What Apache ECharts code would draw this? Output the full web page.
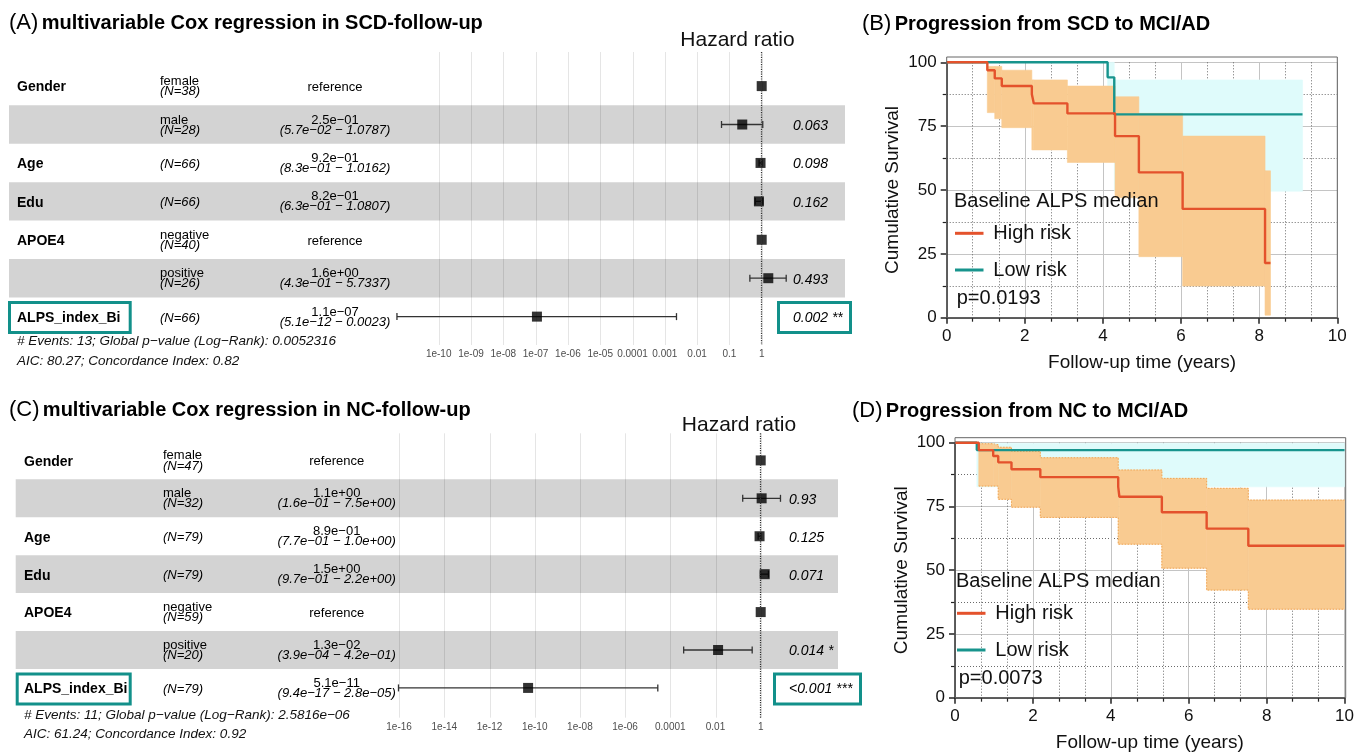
<!DOCTYPE html>
<html><head><meta charset="utf-8">
<script src="https://cdn.jsdelivr.net/npm/echarts@6/dist/echarts.min.js"></script>
<style>html,body{margin:0;padding:0;background:#fff}#c{width:1357px;height:754px}</style>
</head><body><div id="c"></div>
<script>
// ---------------- Panel A: multivariable Cox regression in SCD-follow-up ----------------
const aVars   = ['Gender', '', 'Age', 'Edu', 'APOE4', '', 'ALPS_index_Bi'];
const aLevels = ['female', 'male', '', '', 'negative', 'positive', ''];
const aN      = ['(N=38)', '(N=28)', '(N=66)', '(N=66)', '(N=40)', '(N=26)', '(N=66)'];
const aHR     = [1, 0.25, 0.92, 0.82, 1, 1.6, 1.1e-7];
const aLo     = [null, 0.057, 0.83, 0.63, null, 0.43, 5.1e-12];
const aHi     = [null, 1.0787, 1.0162, 1.0807, null, 5.7337, 0.0023];
const aHRText = ['reference', '2.5e−01', '9.2e−01', '8.2e−01', 'reference', '1.6e+00', '1.1e−07'];
const aCIText = ['', '(5.7e−02 − 1.0787)', '(8.3e−01 − 1.0162)', '(6.3e−01 − 1.0807)', '', '(4.3e−01 − 5.7337)', '(5.1e−12 − 0.0023)'];
const aP      = ['', '0.063', '0.098', '0.162', '', '0.493', '0.002 **'];
const aTickExp    = [-10, -9, -8, -7, -6, -5, -4, -3, -2, -1, 0];
const aTickLabels = ['1e-10', '1e-09', '1e-08', '1e-07', '1e-06', '1e-05', '0.0001', '0.001', '0.01', '0.1', '1'];
const aNotes = ['# Events: 13; Global p−value (Log−Rank): 0.0052316', 'AIC: 80.27; Concordance Index: 0.82'];

// ---------------- Panel C: multivariable Cox regression in NC-follow-up ----------------
const cVars   = ['Gender', '', 'Age', 'Edu', 'APOE4', '', 'ALPS_index_Bi'];
const cLevels = ['female', 'male', '', '', 'negative', 'positive', ''];
const cN      = ['(N=47)', '(N=32)', '(N=79)', '(N=79)', '(N=59)', '(N=20)', '(N=79)'];
const cHR     = [1, 1.1, 0.89, 1.5, 1, 0.013, 5.1e-11];
const cLo     = [null, 0.16, 0.77, 0.97, null, 3.9e-4, 9.4e-17];
const cHi     = [null, 7.5, 1.0, 2.2, null, 0.42, 2.8e-5];
const cHRText = ['reference', '1.1e+00', '8.9e−01', '1.5e+00', 'reference', '1.3e−02', '5.1e−11'];
const cCIText = ['', '(1.6e−01 − 7.5e+00)', '(7.7e−01 − 1.0e+00)', '(9.7e−01 − 2.2e+00)', '', '(3.9e−04 − 4.2e−01)', '(9.4e−17 − 2.8e−05)'];
const cP      = ['', '0.93', '0.125', '0.071', '', '0.014 *', '<0.001 ***'];
const cTickExp    = [-16, -14, -12, -10, -8, -6, -4, -2, 0];
const cTickLabels = ['1e-16', '1e-14', '1e-12', '1e-10', '1e-08', '1e-06', '0.0001', '0.01', '1'];
const cNotes = ['# Events: 11; Global p−value (Log−Rank): 2.5816e−06', 'AIC: 61.24; Concordance Index: 0.92'];

// ---------------- Panel B: Progression from SCD to MCI/AD ----------------
const bHighT = [0, 1.04, 1.23, 1.41, 2.18, 2.23, 3.09, 4.31, 4.92, 6.04, 8.15, 8.29];
const bHighS = [100, 96.9, 93.7, 90.7, 87.5, 83.9, 80.0, 71.1, 56.9, 42.6, 21.4, 21.4];
const bHighBandT  = [1.04, 1.23, 1.41, 2.18, 2.23, 3.09, 4.31, 4.92, 6.04, 8.15, 8.29];
const bHighBandUp = [98.4, 98.4, 96.9, 93.1, 93.1, 90.7, 86.5, 80.0, 71.1, 57.5];
const bHighBandLo = [80.3, 77.9, 74.4, 65.7, 65.7, 60.8, 47.0, 23.9, 12.4, 1.0];
const bLowT = [0, 4.12, 4.29, 9.11];
const bLowS = [100, 94.1, 79.6, 79.6];
const bLowBandT  = [4.12, 4.29, 9.11];
const bLowBandUp = [100, 93.1];
const bLowBandLo = [75, 49.5];
const bP = 'p=0.0193';

// ---------------- Panel D: Progression from NC to MCI/AD ----------------
const dHighT = [0, 0.61, 0.98, 1.11, 1.45, 2.19, 4.19, 4.22, 5.31, 6.46, 7.53, 10];
const dHighS = [100, 97.1, 94.8, 92.3, 89.6, 86.5, 82.7, 78.8, 72.7, 66.3, 59.6, 59.6];
const dHighBandT  = [0.61, 0.98, 1.11, 1.45, 2.19, 4.19, 4.22, 5.31, 6.46, 7.53, 10];
const dHighBandUp = [99.6, 99.2, 98.2, 96.6, 94.1, 89.3, 89.3, 86.0, 82.1, 77.5];
const dHighBandLo = [83.0, 83.0, 77.8, 74.7, 70.7, 60.2, 60.2, 50.8, 42.2, 34.7];
const dLowT = [0, 0.56, 10];
const dLowS = [100, 97.1, 97.1];
const dLowBandT  = [0.56, 10];
const dLowBandUp = [99.8];
const dLowBandLo = [82.7];
const dP = 'p=0.0073';

const groupNames = ['High risk', 'Low risk'];
const legendTitle = 'Baseline ALPS median';
const kmXName = 'Follow-up time (years)';
const kmYName = 'Cumulative Survival';

// ---------------- styling ----------------
const FONT = '"Liberation Sans", Arial, Helvetica, sans-serif';
const TEAL = '#12908a';
const RED = '#e4522c';
const LOWC = '#18948d';
const ORANGE = '#f9cb91';
const CYAN = '#dffbfb';

function txt(s, x, y, o) {
  return { type: 'text', x: x, y: y, style: Object.assign({ text: s, fontFamily: FONT, fontSize: 13, fill: '#000', align: 'left', verticalAlign: 'middle' }, o || {}) };
}

// forest layouts
const LA = { top: 52, bottom: 345, row1: 86.1, rowH: 38.42, one: 761.7, dec: 32.3, xmin: -12, xmax: 1,
  bandX0: 9, bandX1: 845, varX: 17, levelX: 160, estX: 335, pX: 793,
  labBox: [9.5, 120.7], pBox: [778.5, 72] };
const LC = { top: 433.3, bottom: 717.7, row1: 460.4, rowH: 37.92, one: 760.7, dec: 22.6, xmin: -17, xmax: 1,
  bandX0: 15.7, bandX1: 838, varX: 24, levelX: 163, estX: 336.7, pX: 789,
  labBox: [17.2, 113], pBox: [774.5, 86] };

function forestGrid(L) {
  return { left: L.one + L.xmin * L.dec, top: L.top, width: (L.xmax - L.xmin) * L.dec, height: L.bottom - L.top };
}
function forestY(L) {
  const ymin = 1 - (L.row1 - L.top) / L.rowH;
  return { ymin: ymin, ymax: ymin + (L.bottom - L.top) / L.rowH };
}

function forestSeries(gi, d, L) {
  const rows = d.vars.map((_, i) => [0, i + 1]);
  const out = [];
  out.push({ type: 'custom', xAxisIndex: gi, yAxisIndex: gi, z: 1, silent: true, data: rows,
    renderItem(params, api) {
      const i = params.dataIndex;
      if (i % 2 === 0) return { type: 'group', children: [] };
      const r = i + 1;
      const y0 = api.coord([0, r - 0.5])[1], y1 = api.coord([0, r + 0.5])[1];
      return { type: 'rect', shape: { x: L.bandX0, y: y0, width: L.bandX1 - L.bandX0, height: y1 - y0 }, style: { fill: '#d3d3d3' } };
    } });
  out.push({ type: 'custom', xAxisIndex: gi, yAxisIndex: gi, z: 2, silent: true, data: d.tickExp.map(e => [e, 1]),
    renderItem(params, api) {
      const cs = params.coordSys;
      const x = Math.round(api.coord([api.value(0), 1])[0]) + 0.5;
      return { type: 'line', shape: { x1: x, y1: cs.y, x2: x, y2: cs.y + cs.height }, style: { stroke: 'rgba(0,0,0,0.1)', lineWidth: 1 } };
    } });
  const eb = [];
  d.lo.forEach((lo, i) => { if (lo != null) eb.push([Math.log10(lo), Math.log10(d.hi[i]), i + 1]); });
  out.push({ type: 'custom', xAxisIndex: gi, yAxisIndex: gi, z: 3, silent: true, encode: { x: [0, 1], y: 2 }, data: eb,
    renderItem(params, api) {
      const a = api.coord([api.value(0), api.value(2)]), b = api.coord([api.value(1), api.value(2)]);
      const st = { stroke: '#333', lineWidth: 1.3 };
      return { type: 'group', children: [
        { type: 'line', shape: { x1: a[0], y1: a[1], x2: b[0], y2: b[1] }, style: st },
        { type: 'line', shape: { x1: a[0], y1: a[1] - 3.5, x2: a[0], y2: a[1] + 3.5 }, style: st },
        { type: 'line', shape: { x1: b[0], y1: b[1] - 3.5, x2: b[0], y2: b[1] + 3.5 }, style: st }] };
    } });
  out.push({ type: 'scatter', xAxisIndex: gi, yAxisIndex: gi, z: 4, silent: true, symbol: 'rect', symbolSize: 10,
    itemStyle: { color: '#000' }, data: d.hr.map((h, i) => [Math.log10(h), i + 1]),
    markLine: { silent: true, symbol: 'none', label: { show: false }, lineStyle: { color: '#333', type: 'dotted', width: 1.2 }, data: [{ xAxis: 0 }] } });
  out.push({ type: 'custom', xAxisIndex: gi, yAxisIndex: gi, z: 5, silent: true, data: rows,
    renderItem(params, api) {
      const i = params.dataIndex;
      const y = api.coord([0, i + 1])[1];
      const ch = [];
      if (i === d.highlight) {
        ch.push({ type: 'rect', shape: { x: L.labBox[0], y: y - 14, width: L.labBox[1], height: 30 }, style: { fill: '#fff', stroke: TEAL, lineWidth: 3 } });
        ch.push({ type: 'rect', shape: { x: L.pBox[0], y: y - 14, width: L.pBox[1], height: 30 }, style: { fill: '#fff', stroke: TEAL, lineWidth: 3 } });
      }
      if (d.vars[i]) ch.push(txt(d.vars[i], L.varX, y + 1.5, { fontSize: 14, fontWeight: 'bold' }));
      if (d.levels[i]) {
        ch.push(txt(d.levels[i], L.levelX, y - 4.5));
        ch.push(txt(d.ns[i], L.levelX, y + 5.5, { fontStyle: 'italic' }));
      } else {
        ch.push(txt(d.ns[i], L.levelX, y + 1.5, { fontStyle: 'italic' }));
      }
      if (d.ci[i]) {
        ch.push(txt(d.hrText[i], L.estX, y - 4.5, { align: 'center' }));
        ch.push(txt(d.ci[i], L.estX, y + 5.5, { align: 'center', fontStyle: 'italic' }));
      } else {
        ch.push(txt(d.hrText[i], L.estX, y + 1.5, { align: 'center' }));
      }
      if (d.p[i]) ch.push(txt(d.p[i], L.pX, y + 1.5, { fontStyle: 'italic', fontSize: 14 }));
      return { type: 'group', children: ch };
    } });
  return out;
}

function forestAxes(gi, d, L) {
  const yr = forestY(L);
  const x = { type: 'value', gridIndex: gi, min: L.xmin, max: L.xmax, interval: 1,
    axisLine: { show: false }, axisTick: { show: false }, splitLine: { show: false },
    axisLabel: { fontFamily: FONT, fontSize: 10, color: '#4d4d4d', margin: 4.5,
      formatter: v => { const k = d.tickExp.indexOf(Math.round(v)); return k >= 0 ? d.tickLabels[k] : ''; } } };
  const y = { type: 'value', gridIndex: gi, inverse: true, min: yr.ymin, max: yr.ymax, show: false };
  return { x, y };
}

// KM layouts
const KB = { left: 946.7, top: 62.3, width: 390.6, height: 255.4, frameTop: 57 };
const KD = { left: 955, top: 442.7, width: 390.7, height: 255, frameTop: 437.7 };

function kmAxes(gi) {
  const x = { type: 'value', gridIndex: gi, min: 0, max: 10, interval: 2,
    name: kmXName, nameLocation: 'middle', nameGap: 36, nameTextStyle: { fontFamily: FONT, fontSize: 19, color: '#111' },
    axisLine: { lineStyle: { color: '#222', width: 1.5 } },
    axisTick: { length: 6, lineStyle: { color: '#222', width: 1.5 } },
    minorTick: { show: true, splitNumber: 3, length: 4, lineStyle: { color: '#222', width: 1.2 } },
    splitLine: { show: true, lineStyle: { color: '#c4c4c4', width: 1 } },
    minorSplitLine: { show: true, lineStyle: { color: '#6a6a6a', width: 1, type: [1, 2] } },
    axisLabel: { fontFamily: FONT, fontSize: 17, color: '#111', margin: 10 } };
  const y = { type: 'value', gridIndex: gi, min: 0, max: 100, interval: 25,
    name: kmYName, nameLocation: 'middle', nameGap: 44, nameRotate: 90, nameTextStyle: { fontFamily: FONT, fontSize: 19, color: '#111' },
    axisLine: { show: true, lineStyle: { color: '#222', width: 1.5 } },
    axisTick: { show: true, length: 6, lineStyle: { color: '#222', width: 1.5 } },
    minorTick: { show: true, splitNumber: 2, length: 4, lineStyle: { color: '#222', width: 1.2 } },
    splitLine: { show: true, lineStyle: { color: '#c4c4c4', width: 1 } },
    minorSplitLine: { show: true, lineStyle: { color: '#6a6a6a', width: 1, type: [1, 2] } },
    axisLabel: { fontFamily: FONT, fontSize: 17, color: '#111', margin: 10 } };
  return { x, y };
}

function bandSeries(gi, T, up, lo, color, z) {
  const data = up.map((u, i) => [T[i], T[i + 1], lo[i], u]);
  return { type: 'custom', xAxisIndex: gi, yAxisIndex: gi, z: z, silent: true, encode: { x: [0, 1], y: [2, 3] }, data: data,
    renderItem(params, api) {
      const p0 = api.coord([api.value(0), api.value(3)]), p1 = api.coord([api.value(1), api.value(2)]);
      return { type: 'rect', shape: { x: p0[0], y: p0[1], width: p1[0] - p0[0], height: p1[1] - p0[1] }, style: { fill: color, stroke: color, lineWidth: 0.6 } };
    } };
}
function bandEdge(gi, T, vals, color) {
  const pts = vals.map((v, i) => [T[i], v]);
  pts.push([T[T.length - 1], vals[vals.length - 1]]);
  return { type: 'line', xAxisIndex: gi, yAxisIndex: gi, z: 3, silent: true, step: 'end', symbol: 'none', clip: false,
    lineStyle: { color: color, width: 1, type: [1.5, 1.5] }, data: pts };
}
function kmLine(gi, name, T, S, color) {
  return { type: 'line', name: name, xAxisIndex: gi, yAxisIndex: gi, z: 6, silent: true, step: 'end', symbol: 'none', clip: false,
    lineStyle: { color: color, width: 2.4 }, data: T.map((t, i) => [t, S[i]]) };
}

const dataA = { vars: aVars, levels: aLevels, ns: aN, hr: aHR, lo: aLo, hi: aHi, hrText: aHRText, ci: aCIText, p: aP, tickExp: aTickExp, tickLabels: aTickLabels, highlight: 6 };
const dataC = { vars: cVars, levels: cLevels, ns: cN, hr: cHR, lo: cLo, hi: cHi, hrText: cHRText, ci: cCIText, p: cP, tickExp: cTickExp, tickLabels: cTickLabels, highlight: 6 };

const axA = forestAxes(0, dataA, LA), axB = kmAxes(1), axC = forestAxes(2, dataC, LC), axD = kmAxes(3);

const series = [].concat(
  forestSeries(0, dataA, LA),
  [bandSeries(1, bLowBandT, bLowBandUp, bLowBandLo, CYAN, 1),
   bandSeries(1, bHighBandT, bHighBandUp, bHighBandLo, ORANGE, 2),
   kmLine(1, groupNames[1], bLowT, bLowS, LOWC),
   kmLine(1, groupNames[0], bHighT, bHighS, RED)],
  forestSeries(2, dataC, LC),
  [bandSeries(3, dLowBandT, dLowBandUp, dLowBandLo, CYAN, 1),
   bandSeries(3, dHighBandT, dHighBandUp, dHighBandLo, ORANGE, 2),
   bandEdge(3, dHighBandT, dHighBandUp, '#f0a555'),
   bandEdge(3, dHighBandT, dHighBandLo, '#f0a555'),
   kmLine(3, groupNames[1], dLowT, dLowS, LOWC),
   kmLine(3, groupNames[0], dHighT, dHighS, RED)]
);

function titleEl(x, y, tag, rest) {
  return { type: 'text', x: x, y: y, z: 10, style: { text: '{n|' + tag + '} {b|' + rest + '}', verticalAlign: 'middle', fill: '#000',
    rich: { n: { fontFamily: FONT, fontSize: 22, fill: '#000' }, b: { fontFamily: FONT, fontSize: 20, fontWeight: 'bold', fill: '#000' } } } };
}
function gtext(s, x, y, o) {
  return { type: 'text', x: x, y: y, z: 10, style: Object.assign({ text: s, fontFamily: FONT, fontSize: 20, fill: '#111', verticalAlign: 'middle' }, o || {}) };
}
function frame(K) {
  return { type: 'rect', z: 9, shape: { x: K.left, y: K.frameTop, width: K.width, height: K.top + K.height - K.frameTop }, style: { fill: 'rgba(0,0,0,0)', stroke: '#666', lineWidth: 1 } };
}
function kmLegend(x, y0, pval) {
  return [
    gtext(legendTitle, x, y0),
    { type: 'line', z: 10, shape: { x1: x + 1, y1: y0 + 31.6, x2: x + 29.5, y2: y0 + 31.6 }, style: { stroke: RED, lineWidth: 3 } },
    gtext(groupNames[0], x + 39.3, y0 + 31.6),
    { type: 'line', z: 10, shape: { x1: x + 1, y1: y0 + 68.3, x2: x + 29.5, y2: y0 + 68.3 }, style: { stroke: LOWC, lineWidth: 3 } },
    gtext(groupNames[1], x + 39.3, y0 + 68.3),
    gtext(pval, x + 2.7, y0 + 96.6)
  ];
}

const graphic = [
  titleEl(9, 23, '(A)', 'multivariable Cox regression in SCD-follow-up'),
  titleEl(862, 24, '(B)', 'Progression from SCD to MCI/AD'),
  titleEl(9, 410, '(C)', 'multivariable Cox regression in NC-follow-up'),
  titleEl(852, 411, '(D)', 'Progression from NC to MCI/AD'),
  gtext('Hazard ratio', 737.5, 40, { fontSize: 21, align: 'center', fill: '#111' }),
  gtext('Hazard ratio', 739, 425, { fontSize: 21, align: 'center', fill: '#111' }),
  gtext(aNotes[0], 17, 341.7, { fontSize: 13.5, fontStyle: 'italic', fill: '#111' }),
  gtext(aNotes[1], 17, 361.7, { fontSize: 13.5, fontStyle: 'italic', fill: '#111' }),
  gtext(cNotes[0], 24, 715, { fontSize: 13.5, fontStyle: 'italic', fill: '#111' }),
  gtext(cNotes[1], 24, 734, { fontSize: 13.5, fontStyle: 'italic', fill: '#111' }),
  frame(KB), frame(KD)
].concat(kmLegend(954, 201.7, bP), kmLegend(956, 581.7, dP));

const chart = echarts.init(document.getElementById('c'), null, { renderer: 'canvas' });
chart.setOption({
  animation: false,
  backgroundColor: '#fff',
  grid: [forestGrid(LA), { left: KB.left, top: KB.top, width: KB.width, height: KB.height },
         forestGrid(LC), { left: KD.left, top: KD.top, width: KD.width, height: KD.height }],
  xAxis: [axA.x, axB.x, axC.x, axD.x],
  yAxis: [axA.y, axB.y, axC.y, axD.y],
  series: series,
  graphic: graphic
});
</script></body></html>
